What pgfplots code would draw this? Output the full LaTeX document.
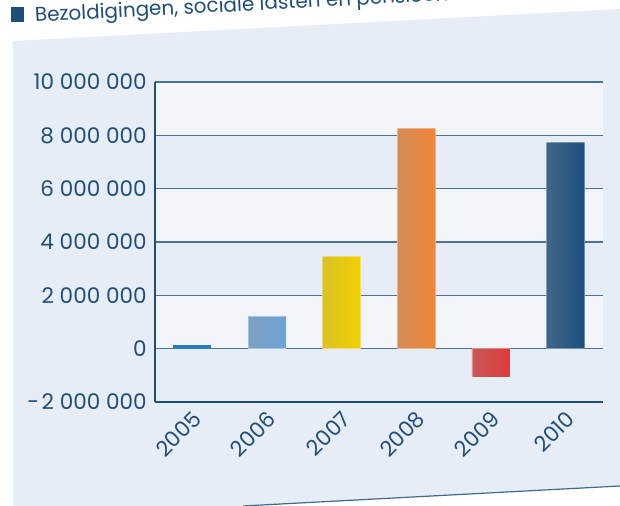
\documentclass[border=0pt]{standalone}
\usepackage{fontspec}
\setmainfont{Poppins}
\usepackage{pgfplots}
\pgfplotsset{compat=1.18}
\definecolor{panel}{HTML}{E6EDF7}
\definecolor{bandlight}{HTML}{F2F6FB}
\definecolor{dblue}{HTML}{1F4E79}
\definecolor{gridblue}{HTML}{4A7299}
\definecolor{mixg}{HTML}{9A9A9A}
\definecolor{cA}{HTML}{2B7BC0}
\definecolor{cB}{HTML}{6FA3D4}
\definecolor{cC}{HTML}{F2CF00}
\definecolor{cD}{HTML}{EE8638}
\definecolor{cE}{HTML}{DC3B3B}
\definecolor{cF}{HTML}{1C4F7F}

\begin{document}
\begin{tikzpicture}
\path[use as bounding box] (0bp,0bp) rectangle (310bp,-253bp);
\clip (0bp,0bp) rectangle (310bp,-253bp);
% background panel, drawn in pixel units of the reference
\begin{scope}[x=0.5bp,y=-0.5bp]
\fill[white] (0,0) rectangle (620,506);
\fill[panel] (13,41) -- (620,9) -- (620,486) -- (243,506) -- (13,506) -- cycle;
\draw[dblue!85, line width=0.6bp] (243,506) -- (620,486);
\fill[bandlight] (155,82) rectangle (603,135.33);
\fill[bandlight] (155,188.67) rectangle (603,242);
\fill[bandlight] (155,295.33) rectangle (603,348.67);
\fill[dblue] (11,7) rectangle (24,22);
\node[rotate=3, anchor=base west, inner sep=0pt, text=dblue,
      font=\fontsize{10}{11}\selectfont] at (35,22)
      {Bezoldigingen, sociale lasten en pensioenen};
\end{scope}

\begin{axis}[
  at={(77.5bp,-201bp)}, anchor=south west,
  scale only axis, width=224bp, height=160bp,
  xmin=-0.5, xmax=5.5, ymin=-2000000, ymax=10000000,
  axis x line*=bottom, axis y line*=left,
  axis line style={dblue, line width=1.1bp},
  xtick={0,1,2,3,4,5}, xticklabels={2005,2006,2007,2008,2009,2010},
  ytick={-2000000,0,2000000,4000000,6000000,8000000,10000000},
  yticklabels={-\hspace{1.2bp}2 000 000,0,2 000 000,4 000 000,6 000 000,8 000 000,10 000 000},
  scaled y ticks=false,
  major tick length=0pt,
  ymajorgrids, grid style={gridblue, line width=0.7bp},
  ticklabel style={font=\fontsize{10.8}{12}\selectfont, text=dblue},
  yticklabel style={inner sep=0pt, xshift=-4bp},
  xticklabel style={inner sep=0pt, xshift=2.5bp, yshift=-6.5bp, rotate=45, anchor=east},
  ybar,
]
\addplot[bar shift=0pt, bar width=19bp, draw=none, fill=cA] coordinates {(0,120000)};
\addplot[bar shift=0pt, bar width=19bp, draw=white, draw opacity=0.35, line width=0.4bp,
  left color=cB!70!mixg, right color=cB] coordinates {(1,1210000)};
\addplot[bar shift=0pt, bar width=19bp, draw=white, draw opacity=0.35, line width=0.4bp,
  left color=cC!75!mixg, right color=cC] coordinates {(2,3460000)};
\addplot[bar shift=0pt, bar width=19bp, draw=white, draw opacity=0.35, line width=0.4bp,
  left color=cD!70!mixg, right color=cD] coordinates {(3,8250000)};
\addplot[bar shift=0pt, bar width=19bp, draw=white, draw opacity=0.35, line width=0.4bp,
  left color=cE!70!mixg, right color=cE] coordinates {(4,-1060000)};
\addplot[bar shift=0pt, bar width=19bp, draw=white, draw opacity=0.35, line width=0.4bp,
  left color=cF!70!mixg, right color=cF] coordinates {(5,7750000)};
\end{axis}
\end{tikzpicture}
\end{document}
